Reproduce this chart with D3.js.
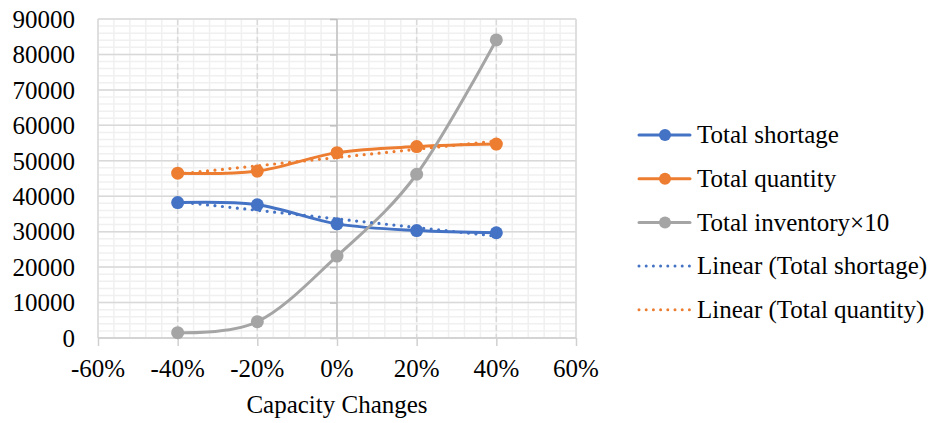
<!DOCTYPE html>
<html>
<head>
<meta charset="utf-8">
<script src="https://cdn.jsdelivr.net/npm/d3@7/dist/d3.min.js"></script>
</head>
<body style="margin:0;background:#fff">
<svg id="fig" width="938" height="423" style="display:block"></svg>
<script>
// Capacity change levels (fraction) and the series measured at each level
const capacityChanges = [-0.4, -0.2, 0, 0.2, 0.4];
const totalShortage   = [38200, 37600, 32200, 30300, 29700];
const totalQuantity   = [46500, 47100, 52300, 54000, 54700];
const totalInventory10 = [1500, 4600, 23100, 46200, 84100];

const xTicks = [-0.6, -0.4, -0.2, 0, 0.2, 0.4, 0.6];
const xTickLabels = ["-60%", "-40%", "-20%", "0%", "20%", "40%", "60%"];
const yTicks = [0, 10000, 20000, 30000, 40000, 50000, 60000, 70000, 80000, 90000];

const seriesNames = ["Total shortage", "Total quantity", "Total inventory×10"];
const trendNames = ["Linear (Total shortage)", "Linear (Total quantity)"];
const colors = ["#4472C4", "#ED7D31", "#A5A5A5"];

const FONT = '"Liberation Serif"';

const svg = d3.select("#fig");
const plot = { left: 98, right: 576, top: 19, bottom: 338 };

const x = d3.scaleLinear().domain([-0.6, 0.6]).range([plot.left, plot.right]);
const y = d3.scaleLinear().domain([0, 90000]).range([plot.bottom, plot.top]);

// Minor gridlines: 5 subdivisions per major interval
const minorX = d3.range(-0.6, 0.6001, 0.04).map(v => +v.toFixed(4));
const minorY = d3.range(0, 90001, 2000);
const grid = svg.append("g");
grid.selectAll(".mx").data(minorX).join("line")
  .attr("x1", d => x(d)).attr("x2", d => x(d))
  .attr("y1", plot.top).attr("y2", plot.bottom)
  .attr("stroke", "#f0f0f0").attr("stroke-width", 1.5);
grid.selectAll(".my").data(minorY).join("line")
  .attr("x1", plot.left).attr("x2", plot.right)
  .attr("y1", d => y(d)).attr("y2", d => y(d))
  .attr("stroke", "#f0f0f0").attr("stroke-width", 1.5);

// Major gridlines: horizontal solid, vertical dashed
grid.selectAll(".gy").data(yTicks).join("line")
  .attr("x1", plot.left).attr("x2", plot.right)
  .attr("y1", d => y(d)).attr("y2", d => y(d))
  .attr("stroke", "#d9d9d9").attr("stroke-width", 1.5);
grid.selectAll(".gx").data(xTicks.filter(d => d !== 0 && Math.abs(d) < 0.6)).join("line")
  .attr("x1", d => x(d)).attr("x2", d => x(d))
  .attr("y1", plot.top).attr("y2", plot.bottom)
  .attr("stroke", "#d9d9d9").attr("stroke-width", 1.5)
  .attr("stroke-dasharray", "6 3");
grid.selectAll(".edge").data([-0.6, 0.6]).join("line")
  .attr("x1", d => x(d)).attr("x2", d => x(d))
  .attr("y1", plot.top).attr("y2", plot.bottom)
  .attr("stroke", "#d9d9d9").attr("stroke-width", 1.5);

// Vertical axis crossing at 0% with outward ticks
const yAxisLine = svg.append("g").attr("transform", `translate(${x(0)},0)`)
  .call(d3.axisLeft(y).tickValues(yTicks).tickSize(7).tickFormat(""));
yAxisLine.select(".domain").remove();
yAxisLine.append("line").attr("y1", plot.top).attr("y2", plot.bottom)
  .attr("stroke", "#bfbfbf").attr("stroke-width", 1.5);
yAxisLine.selectAll(".tick line").attr("stroke", "#bfbfbf").attr("stroke-width", 1.5);

// Horizontal axis at zero with downward ticks
const xAxisLine = svg.append("g").attr("transform", `translate(0,${plot.bottom})`)
  .call(d3.axisBottom(x).tickValues(xTicks).tickSize(8).tickFormat(""));
xAxisLine.select(".domain").remove();
xAxisLine.append("line").attr("x1", plot.left).attr("x2", plot.right)
  .attr("stroke", "#d0d0d0").attr("stroke-width", 1.5);
xAxisLine.selectAll(".tick line").attr("stroke", "#d0d0d0").attr("stroke-width", 1.5);

// Text helper: serif labels at 25px
function label(sel) {
  return sel.style("font-family", FONT, "important").attr("font-size", 25).attr("fill", "#000");
}

// Tick labels
svg.append("g").selectAll("text").data(yTicks).join("text")
  .call(label)
  .attr("x", 75).attr("y", d => y(d)).attr("dy", "0.35em")
  .attr("text-anchor", "end")
  .text(d => String(d));
svg.append("g").selectAll("text").data(xTicks).join("text")
  .call(label)
  .attr("x", d => x(d)).attr("y", 377)
  .attr("text-anchor", "middle")
  .text((d, i) => xTickLabels[i]);
svg.append("text").call(label)
  .attr("x", x(0)).attr("y", 413)
  .attr("text-anchor", "middle")
  .text("Capacity Changes");

// Series lines (smoothed)
const allSeries = [totalShortage, totalQuantity, totalInventory10];
const line = d3.line()
  .x((d, i) => x(capacityChanges[i]))
  .y(d => y(d))
  .curve(d3.curveCardinal.tension(0));

// Least-squares trendline endpoints over the data range
function linearFit(xs, ys) {
  const mx = d3.mean(xs), my = d3.mean(ys);
  const b = d3.sum(xs, (v, i) => (v - mx) * (ys[i] - my)) / d3.sum(xs, v => (v - mx) ** 2);
  const a = my - b * mx;
  const x0 = d3.min(xs), x1 = d3.max(xs);
  return [[x0, a + b * x0], [x1, a + b * x1]];
}

const seriesG = svg.append("g");
allSeries.forEach((vals, k) => {
  seriesG.append("path").attr("d", line(vals))
    .attr("fill", "none").attr("stroke", colors[k])
    .attr("stroke-width", 3).attr("stroke-linecap", "round");
});
[totalShortage, totalQuantity].forEach((vals, k) => {
  const fit = linearFit(capacityChanges, vals);
  seriesG.append("line")
    .attr("x1", x(fit[0][0])).attr("y1", y(fit[0][1]))
    .attr("x2", x(fit[1][0])).attr("y2", y(fit[1][1]))
    .attr("stroke", colors[k]).attr("stroke-width", 3.2)
    .attr("stroke-linecap", "round").attr("stroke-dasharray", "0 7.5");
});
allSeries.forEach((vals, k) => {
  seriesG.selectAll(null).data(vals).join("circle")
    .attr("cx", (d, i) => x(capacityChanges[i]))
    .attr("cy", d => y(d))
    .attr("r", 6.5).attr("fill", colors[k]);
});

// Legend
const legendItems = [
  { name: seriesNames[0], color: colors[0], dotted: false },
  { name: seriesNames[1], color: colors[1], dotted: false },
  { name: seriesNames[2], color: colors[2], dotted: false },
  { name: trendNames[0], color: colors[0], dotted: true },
  { name: trendNames[1], color: colors[1], dotted: true }
];
const legend = svg.append("g");
legendItems.forEach((it, i) => {
  const cy = 135 + i * 43.7;
  legend.append("line").attr("x1", 639).attr("x2", 690)
    .attr("y1", cy).attr("y2", cy)
    .attr("stroke", it.color).attr("stroke-width", 3)
    .attr("stroke-linecap", "round")
    .attr("stroke-dasharray", it.dotted ? "0 7.2" : null);
  if (!it.dotted) {
    legend.append("circle").attr("cx", 665).attr("cy", cy).attr("r", 6).attr("fill", it.color);
  }
  legend.append("text").call(label)
    .attr("x", 697).attr("y", cy).attr("dy", "0.33em")
    .text(it.name);
});
</script>
</body>
</html>
